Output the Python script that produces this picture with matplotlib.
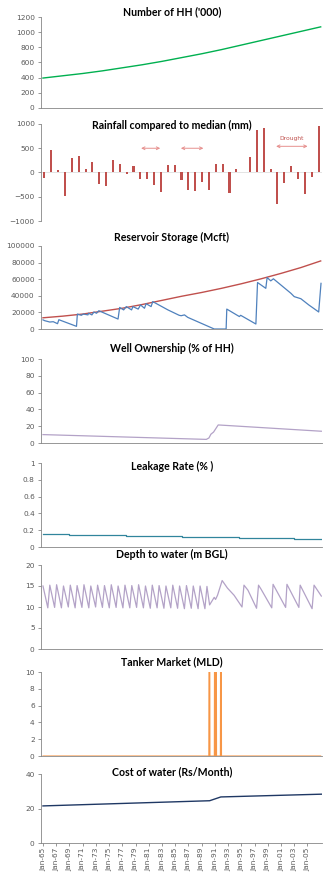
import numpy as np
import matplotlib.pyplot as plt

# ---- data (years measured from Jan-1965) ----
hh_t = [0, 3, 6, 9, 12, 15, 18, 21, 24, 27, 30, 33, 36, 39, 42]
hh_v = [395, 425, 455, 490, 530, 570, 615, 665, 715, 770, 830, 890, 950, 1010, 1070]

rain_mm = [-110, 460, 50, -475, 300, 345, 75, 220, -235, -285, 250, 185, -35, 125,
           -125, -140, -255, -405, 145, 160, -160, -365, -385, -200, -370, 170, 165,
           -415, 80, 20, 310, 870, 915, 70, -650, -210, 140, -130, -450, -90, 960]

res_t = [0, 0.27, 1.03, 1.55, 2.2, 2.4, 5.07, 5.2, 5.8, 6.1, 6.8, 6.9, 7.4, 7.7, 8.1, 8.45,
         11.35, 11.6, 12.2, 12.6, 13.4, 13.6, 14.4, 14.75, 15.35, 15.6, 16.35, 16.6, 18.9,
         20.6, 20.9, 21.4, 21.9, 25.9, 27.7, 27.8, 29.7, 29.9, 32.2, 32.45, 33.7, 33.9,
         34.45, 34.85, 37.5, 38.0, 39.0, 40.2, 41.0, 41.7, 42.05]
res_v = [11000, 10000, 8400, 8800, 6400, 11200, 3200, 18000, 16500, 18000, 17000, 19000,
         17000, 20500, 19000, 22000, 12000, 26000, 23000, 27000, 23000, 27000, 24000, 29000,
         25000, 30500, 27000, 33000, 23000, 16500, 16000, 17000, 14000, 0, 0, 24000, 15000,
         16500, 6000, 56000, 49000, 62000, 58000, 60500, 43000, 39000, 36500, 29000, 24500,
         20500, 55000]
cap_t = [0, 3, 6, 9, 12, 15, 18, 21, 24, 27, 30, 33, 36, 39, 42]
cap_v = [13500, 15500, 18000, 21500, 25000, 29500, 34500, 39500, 44000, 49000, 54500,
         60500, 67000, 74000, 82000]

well_t = [0, 24.7, 25.1, 25.4, 25.8, 26.5, 42.1]
well_v = [10, 4.3, 6, 10.5, 13, 21.5, 14]

leak_t = [0, 4.0, 12.6, 21.1, 29.6, 38.0, 42.1]
leak_v = [0.15, 0.14, 0.13, 0.12, 0.11, 0.10, 0.10]

depth_t = [0, 0.73, 1.03, 1.76, 2.06, 2.79, 3.1, 3.83, 4.13, 4.86, 5.16, 5.89, 6.2,
           6.93, 7.23, 7.96, 8.26, 8.99, 9.3, 10.03, 10.33, 11.06, 11.36, 12.09, 12.4,
           13.13, 13.43, 14.16, 14.46, 15.19, 15.5, 16.23, 16.53, 17.26, 17.56, 18.29,
           18.6, 19.33, 19.63, 20.36, 20.66, 21.39, 21.7, 22.43, 22.73, 23.46, 23.76,
           24.49, 24.8, 25.2, 25.9, 26.1, 26.4, 27.1, 27.9, 28.9, 30.1, 30.4, 31.0, 32.3,
           32.6, 33.0, 34.6, 34.8, 36.7, 36.9, 38.7, 38.9, 40.7, 41.0, 42.1]
depth_v = [15.0, 9.8, 15.2, 9.9, 15.3, 9.8, 15.0, 10.0, 15.2, 9.8, 15.1, 9.9, 15.3,
           9.8, 15.0, 10.0, 15.2, 9.9, 15.1, 9.8, 15.3, 9.9, 15.0, 9.8, 15.2, 9.8, 15.1,
           9.9, 15.3, 9.8, 15.0, 9.7, 15.2, 9.8, 15.1, 9.7, 15.0, 9.8, 15.2, 9.7, 15.0,
           9.6, 15.1, 9.7, 15.0, 9.6, 15.0, 9.6, 14.9, 10.5, 12.3, 11.8, 12.8, 16.3, 14.5,
           12.8, 10.0, 15.2, 14.0, 9.7, 15.2, 14.2, 9.8, 15.4, 9.9, 15.4, 9.9, 15.2, 9.6,
           15.2, 12.6]

tanker_spike_t = [25.2, 26.0, 26.15, 26.9]
tanker_spike_v = [40, 40, 40, 40]

cost_t = [0, 25.2, 26.9, 42.1]
cost_v = [21.5, 24.5, 26.7, 28.3]

tick_years = list(range(1965, 2006, 2))
tick_labels = ["Jan-%02d" % (y % 100) for y in tick_years]

# ---- layout helpers ----
W, H = 323, 872
fig = plt.figure(figsize=(W / 100, H / 100), dpi=100)
GRAY = '#868686'
TXT = '#595959'
XMIN, XMAX = 1964.7, 2007.2


def make_ax(top, bottom, x0=41, x1=322):
    ax = fig.add_axes([x0 / W, 1 - bottom / H, (x1 - x0) / W, (bottom - top) / H])
    for s in ['top', 'right']:
        ax.spines[s].set_visible(False)
    for s in ['left', 'bottom']:
        ax.spines[s].set_color(GRAY)
        ax.spines[s].set_linewidth(0.6)
    ax.tick_params(axis='y', labelsize=5.3, colors=GRAY, labelcolor=TXT,
                   length=2.5, width=0.6, pad=2)
    ax.tick_params(axis='x', bottom=False, labelbottom=False)
    ax.set_xlim(XMIN, XMAX)
    ax.set_facecolor('none')
    return ax


def title(text, y):
    fig.text(172 / W, 1 - y / H, text, ha='center', va='center',
             fontsize=7.6, fontweight='bold', family='Lato', color='black')


yr = lambda t: 1965 + np.asarray(t, dtype=float)

# 1 households
ax = make_ax(17, 108)
ax.plot(yr(hh_t), hh_v, color='#00B050', lw=1.0)
ax.set_ylim(0, 1200)
ax.set_yticks(range(0, 1201, 200))
title("Number of HH ('000)", 12)

# 2 rainfall
ax = make_ax(124, 221)
idx = np.arange(len(rain_mm))
ax.bar(idx, rain_mm, width=0.3, color='#C0504D')
ax.set_xlim(-0.5, len(rain_mm) - 0.5)
ax.set_ylim(-1000, 1000)
ax.set_yticks([-1000, -500, 0, 500, 1000])
ax.spines['bottom'].set_visible(False)
ax.axhline(0, color='#D9D9D9', lw=0.5, zorder=0)
arr = dict(arrowstyle='<->', color='#E6908E', lw=0.7, mutation_scale=5)
ax.annotate('', xy=(13.7, 500), xytext=(17.3, 500), arrowprops=arr)
ax.annotate('', xy=(19.5, 500), xytext=(23.6, 500), arrowprops=arr)
ax.annotate('', xy=(33.4, 540), xytext=(38.8, 540), arrowprops=arr)
ax.text(36.1, 700, 'Drought', color='#C0504D', fontsize=4.3, ha='center', va='center')
title('Rainfall compared to median (mm)', 125)

# 3 reservoir
ax = make_ax(246, 329)
ax.plot(yr(cap_t), cap_v, color='#C0504D', lw=1.0)
ax.plot(yr(res_t), res_v, color='#4F81BD', lw=0.9)
ax.set_ylim(0, 100000)
ax.set_yticks(range(0, 100001, 20000))
title('Reservoir Storage (Mcft)', 237)

# 4 wells
ax = make_ax(359, 443)
ax.plot(yr(well_t), well_v, color='#B3A2C7', lw=0.9)
ax.set_ylim(0, 100)
ax.set_yticks(range(0, 101, 20))
title('Well Ownership (% of HH)', 348)

# 5 leakage
ax = make_ax(463, 547)
ax.step(yr(leak_t), leak_v, where='post', color='#31859C', lw=0.9)
ax.set_ylim(0, 1)
ax.set_yticks([0, 0.2, 0.4, 0.6, 0.8, 1])
ax.set_yticklabels(['0', '0.2', '0.4', '0.6', '0.8', '1'])
title('Leakage Rate (% )', 466)

# 6 depth
ax = make_ax(565, 649)
ax.plot(yr(depth_t), depth_v, color='#B3A2C7', lw=0.9)
ax.set_ylim(0, 20)
ax.set_yticks(range(0, 21, 5))
title('Depth to water (m BGL)', 554)

# 7 tanker
ax = make_ax(672, 756)
months = np.arange(0, 42 * 12 + 1) / 12.0
tanker = np.zeros_like(months)
for t, v in zip(tanker_spike_t, tanker_spike_v):
    tanker[int(round(t * 12))] = v
ax.plot(yr(months), tanker, color='#F79646', lw=0.8)
ax.set_ylim(0, 10)
ax.set_yticks(range(0, 11, 2))
title('Tanker Market (MLD)', 662)

# 8 cost
ax = make_ax(774, 843)
ax.plot(yr(cost_t), cost_v, color='#1F3864', lw=1.0)
ax.set_ylim(0, 40)
ax.set_yticks([0, 20, 40])
ax.tick_params(axis='x', bottom=True, labelbottom=True, labelsize=5.3, colors=GRAY,
               labelcolor=TXT, length=2, width=0.6, pad=1.5)
ax.set_xticks(tick_years)
ax.set_xticklabels(tick_labels, rotation=90)
title('Cost of water (Rs/Month)', 772)

fig.savefig('out.png', dpi=100)
